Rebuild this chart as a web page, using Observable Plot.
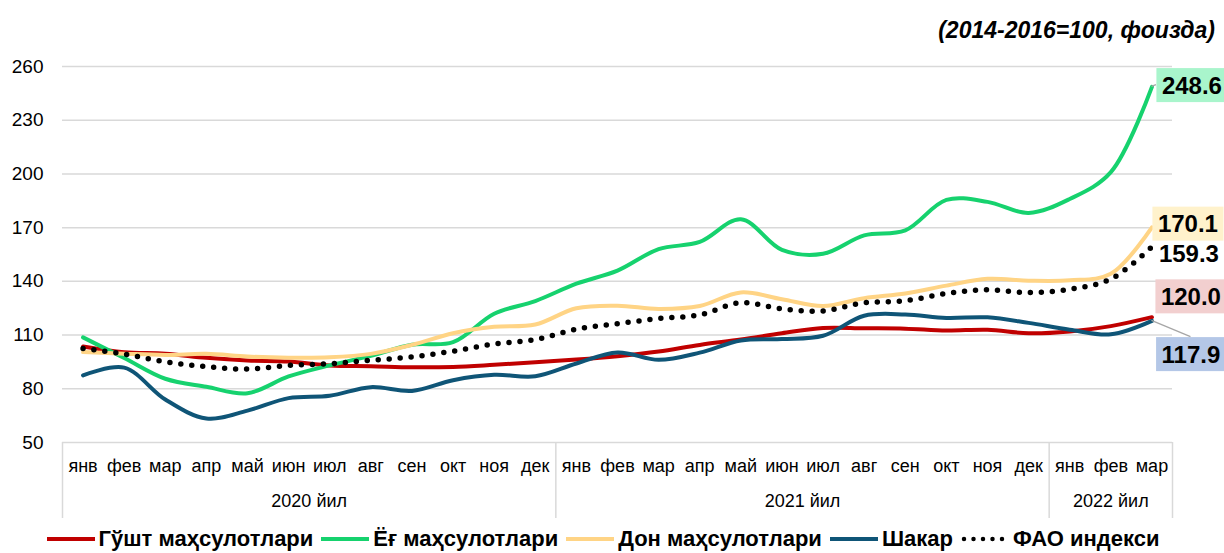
<!DOCTYPE html>
<html>
<head>
<meta charset="utf-8">
<script src="https://cdn.jsdelivr.net/npm/d3@7"></script>
<script src="https://cdn.jsdelivr.net/npm/@observablehq/plot@0.6"></script>
<style>
html, body { margin: 0; padding: 0; background: #fff; overflow: hidden; }
body { width: 1224px; height: 553px; font-family: "Liberation Sans", Arial, sans-serif; color: #000; }
#sub { height: 48px; box-sizing: border-box; padding-top: 19px; padding-right: 9px; text-align: right;
       font-size: 23px; line-height: 23px; font-weight: bold; font-style: italic; }
#chart svg { display: block; }
#legend { display: flex; justify-content: center; align-items: center; height: 26px; padding-top: 1px;
          padding-right: 18px; font-size: 22px; font-weight: bold; line-height: 26px; }
#legend .item { display: flex; align-items: center; margin: 0 4px; }
#legend .item svg { margin-right: 4px; }
</style>
</head>
<body>
<div id="sub">(2014-2016=100, фоизда)</div>
<div id="chart"></div>
<div id="legend"></div>
<script>
// ---- data ----
const months = ["янв", "фев", "мар", "апр", "май", "июн", "июл", "авг", "сен", "окт", "ноя", "дек"];
const yearLabels = ["2020 йил", "2021 йил", "2022 йил"];
const yearCounts = [12, 12, 3];
const yTicks = [50, 80, 110, 140, 170, 200, 230, 260];

const seriesNames = ["Гўшт маҳсулотлари", "Ёғ маҳсулотлари", "Дон маҳсулотлари", "Шакар", "ФАО индекси"];
const meat    = [103.6, 100.4, 99.6, 97.3, 95.8, 95.2, 93.0, 92.6, 92.0, 92.2, 93.4, 94.8, 96.3, 98.2, 100.8, 104.5, 107.5, 111.0, 114.0, 113.8, 113.6, 112.5, 113.0, 111.0, 112.0, 115.0, 120.0];
const oils    = [108.7, 97.2, 85.6, 81.1, 77.5, 86.9, 93.1, 98.4, 104.6, 106.0, 121.9, 129.0, 138.7, 146.0, 158.0, 162.0, 174.7, 157.6, 155.4, 165.7, 168.5, 185.5, 184.4, 178.2, 186.0, 201.0, 248.6];
const cereals = [100.5, 99.6, 98.9, 99.5, 98.0, 97.4, 97.6, 99.5, 104.5, 111.0, 114.6, 115.9, 125.0, 126.4, 124.6, 126.2, 133.8, 130.0, 126.2, 130.6, 133.2, 137.6, 141.4, 140.4, 140.6, 144.2, 170.1];
const sugar   = [87.5, 91.8, 74.0, 63.4, 67.8, 74.8, 76.1, 80.9, 78.8, 84.8, 87.8, 87.0, 94.1, 100.3, 96.2, 100.2, 107.0, 107.8, 109.6, 120.8, 121.5, 119.6, 119.9, 116.8, 113.0, 110.4, 117.9];
const fao     = [102.5, 99.4, 95.1, 92.4, 91.0, 93.1, 94.0, 95.9, 97.8, 101.0, 105.0, 107.5, 113.3, 116.4, 119.2, 121.3, 128.1, 124.6, 123.5, 128.0, 129.2, 133.2, 135.3, 133.7, 135.6, 141.3, 159.3];
const seriesValues = [meat, oils, cereals, sugar, fao];

// ---- styles (kept apart from data) ----
const lineColors = ["#c00000", "#16d26e", "#ffd485", "#0f5577", "#000000"];
const dotted = [false, false, false, false, true];
const labelBoxes = ["#f2cfcf", "#a9f5cc", "#fff2cc", "#b4c7e7", null];
const labelOffsets = [[39, -20], [40, -1], [36, -3], [39, 34], [37, 8]];
const leaderAnchor = [null, "left", null, "top", null];

// ---- derived tables ----
const periods = [];
yearCounts.forEach((n, g) => months.slice(0, n).forEach(m => periods.push({month: m, year: yearLabels[g]})));
let start = 0;
const yearGroups = yearLabels.map((label, g) => {
  const o = {label, mid: start + (yearCounts[g] - 1) / 2, lo: start - 0.5, hi: start + yearCounts[g] - 0.5};
  start += yearCounts[g];
  return o;
});
const bounds = [yearGroups[0].lo, ...yearGroups.map(d => d.hi)];
const series = seriesNames.map((name, k) => ({
  name, k,
  rows: seriesValues[k].map((v, i) => ({i, v}))
}));

const FONT = '"Liberation Sans", Arial, sans-serif';

const lineMarks = series.map(s => dotted[s.k]
  ? Plot.line(s.rows, {x: "i", y: "v", stroke: lineColors[s.k], strokeWidth: 5.5, strokeDasharray: "0 11",
                       strokeLinecap: "round", curve: "catmull-rom"})
  : Plot.line(s.rows, {x: "i", y: "v", stroke: lineColors[s.k], strokeWidth: 4, curve: "catmull-rom",
                       strokeLinecap: "round"}));

const labelMarks = series.map(s => Plot.text([s.rows[s.rows.length - 1]], {
  x: "i", y: "v", text: d => d.v.toFixed(1),
  dx: labelOffsets[s.k][0], dy: labelOffsets[s.k][1],
  textAnchor: "middle", lineAnchor: "middle",
  fontSize: 24, fontWeight: "bold", fill: "#000"
}));

const chart = Plot.plot({
  width: 1224,
  height: 477,
  marginLeft: 62,
  marginRight: 52,
  marginTop: 18,
  marginBottom: 83,
  x: {domain: [-0.5, periods.length - 0.5]},
  y: {domain: [yTicks[0], yTicks[yTicks.length - 1]]},
  style: {fontFamily: FONT, fontSize: "18px", color: "#000", background: "#fff", overflow: "visible"},
  marks: [
    Plot.ruleY(yTicks, {stroke: "#d9d9d9", strokeWidth: 1.5}),
    Plot.ruleX(bounds, {x: d => d, y1: yTicks[0], y2: yTicks[0], insetBottom: -76, stroke: "#d9d9d9", strokeWidth: 1.5}),
    Plot.axisY({ticks: yTicks, tickSize: 0, tickPadding: 19, fontSize: 19, label: null}),
    Plot.axisX({ticks: d3.range(periods.length), tickFormat: i => periods[i].month, tickSize: 0,
                tickPadding: 17, fontSize: 18, label: null}),
    Plot.text(yearGroups, {x: "mid", text: "label", frameAnchor: "bottom", dy: 59, lineAnchor: "middle",
                           fontSize: 18, fill: "#000"}),
    ...lineMarks,
    ...labelMarks
  ]
});

document.getElementById("chart").append(chart);

// label boxes and leader lines, positioned from the plot's own scales
const xs = chart.scale("x"), ys = chart.scale("y");
const svg = d3.select(chart);
const allTexts = svg.selectAll("text").nodes();
series.forEach(s => {
  const last = s.rows[s.rows.length - 1];
  const label = last.v.toFixed(1);
  const node = allTexts.find(t => t.textContent === label);
  if (!node) return;
  const bb = node.getBBox();
  const padX = 5.5, padY = 3.5;
  if (labelBoxes[s.k]) {
    d3.select(node.parentNode).insert("rect", () => node)
      .attr("transform", node.getAttribute("transform"))
      .attr("x", bb.x - padX).attr("y", bb.y - padY)
      .attr("width", bb.width + 2 * padX).attr("height", bb.height + 2 * padY)
      .attr("fill", labelBoxes[s.k]);
  }
  const ex = xs.apply(last.i), ey = ys.apply(last.v);
  const cx = ex + labelOffsets[s.k][0], cy = ey + labelOffsets[s.k][1];
  let tx, ty;
  if (leaderAnchor[s.k] === "left") { tx = cx + bb.x - padX; ty = cy + bb.y + bb.height / 2; }
  else if (leaderAnchor[s.k] === "top") { tx = cx; ty = cy + bb.y - padY; }
  if (tx !== undefined) {
    svg.append("line").attr("x1", ex).attr("y1", ey).attr("x2", tx).attr("y2", ty)
      .attr("stroke", "#a6a6a6").attr("stroke-width", 1.3);
  }
});

// legend
const legend = d3.select("#legend");
series.forEach(s => {
  const item = legend.append("div").attr("class", "item");
  const sw = item.append("svg").attr("width", 48).attr("height", 10);
  const ln = sw.append("line").attr("x1", dotted[s.k] ? 3 : 0).attr("x2", dotted[s.k] ? 45 : 48)
    .attr("y1", 5).attr("y2", 5).attr("stroke", lineColors[s.k]);
  if (dotted[s.k]) ln.attr("stroke-width", 4.5).attr("stroke-dasharray", "0 9.5").attr("stroke-linecap", "round");
  else ln.attr("stroke-width", 4);
  item.append("span").text(s.name);
});
</script>
</body>
</html>
